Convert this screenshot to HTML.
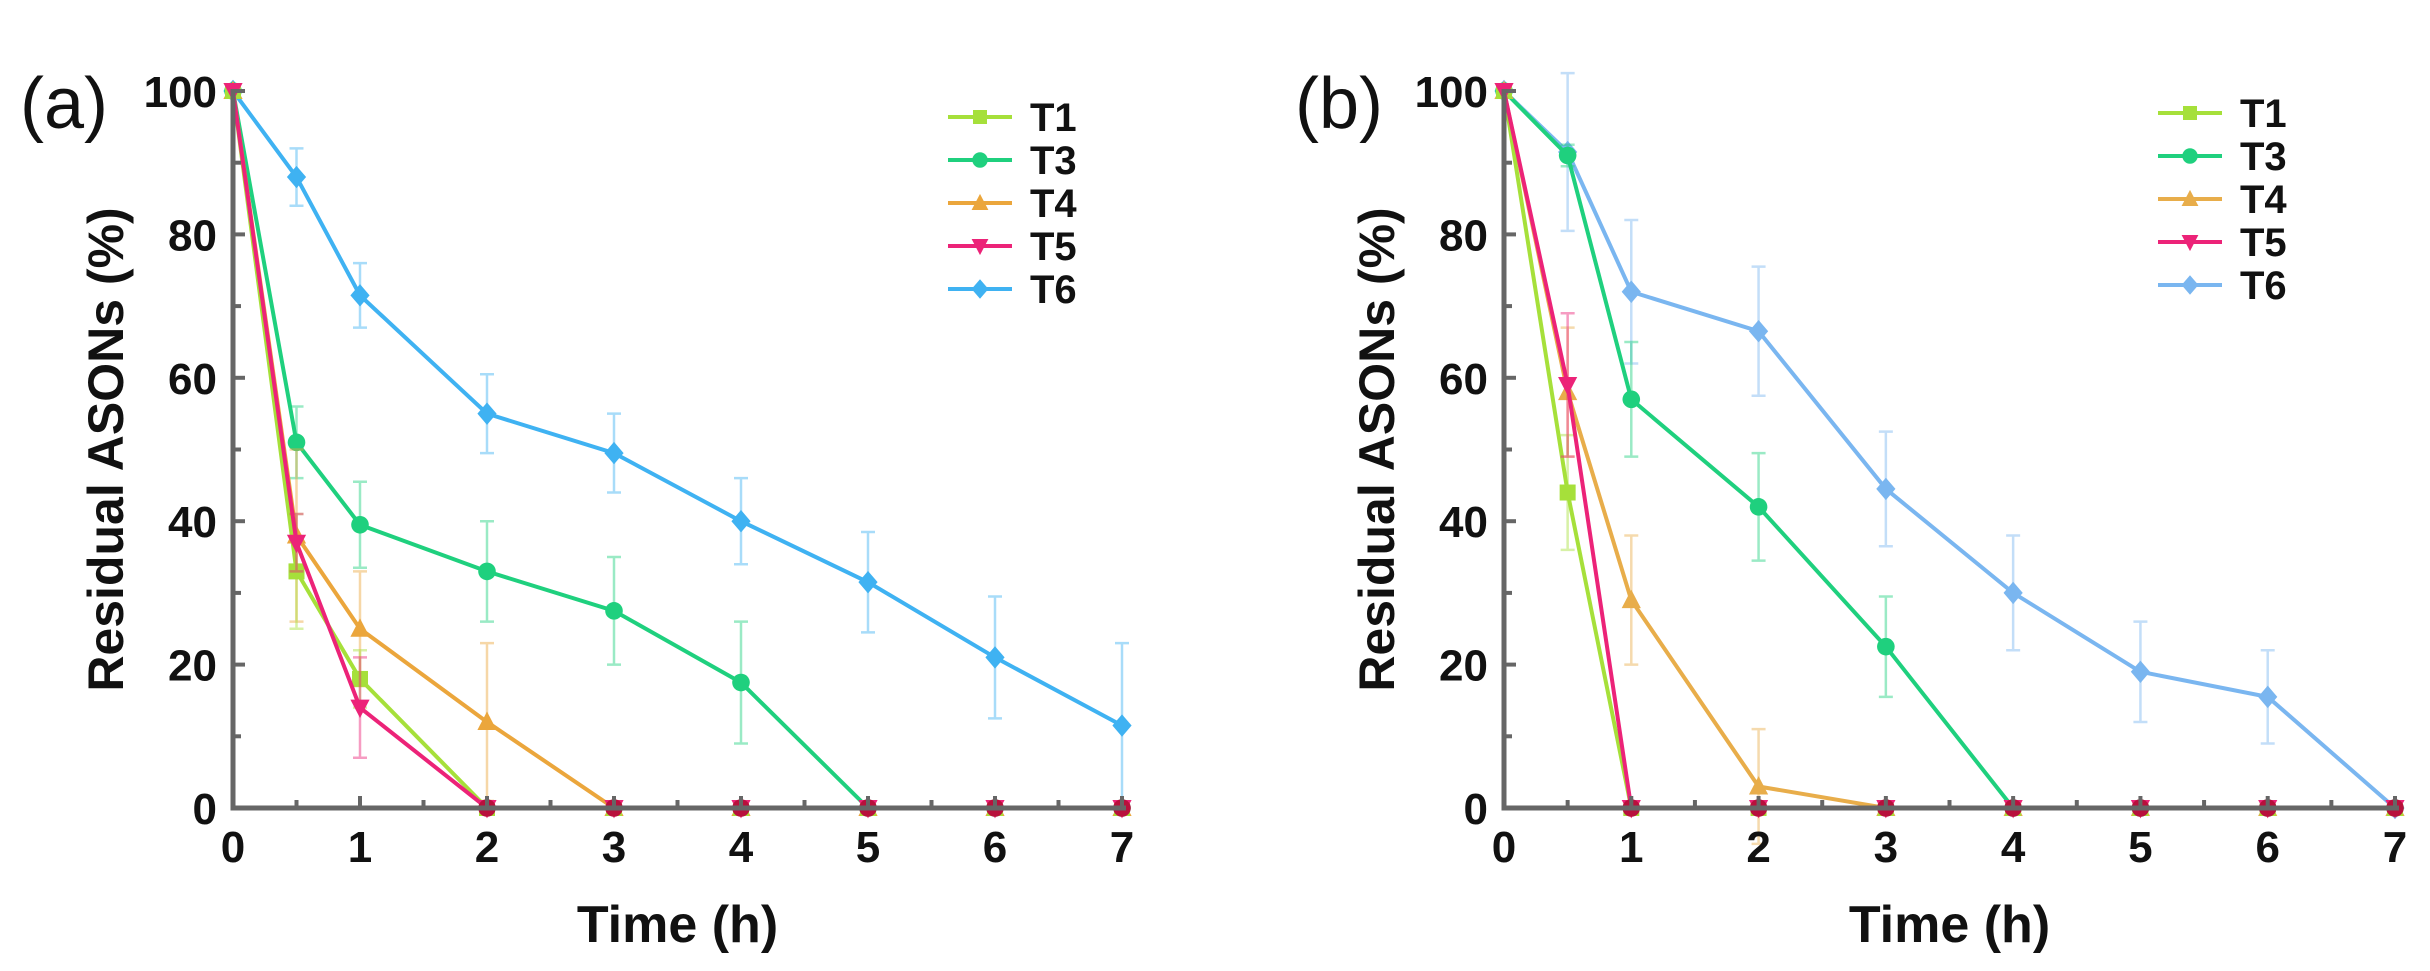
<!DOCTYPE html>
<html><head><meta charset="utf-8">
<style>
html,body{margin:0;padding:0;background:#fff;}
svg{display:block;font-family:"Liberation Sans",Arial,sans-serif;}
</style></head>
<body>
<svg id="fig" width="2430" height="971" viewBox="0 0 2430 971" xmlns="http://www.w3.org/2000/svg"></svg>
<script>
// ---- data ----
const times = [0, 0.5, 1, 2, 3, 4, 5, 6, 7];
const seriesNames = ["T1", "T3", "T4", "T5", "T6"];
const xTicks = [0, 1, 2, 3, 4, 5, 6, 7];
const yTicks = [0, 20, 40, 60, 80, 100];
// panel a
const aT1 = [100, 33, 18, 0, 0, 0, 0, 0, 0];
const aT3 = [100, 51, 39.5, 33, 27.5, 17.5, 0, 0, 0];
const aT4 = [100, 38, 25, 12, 0, 0, 0, 0, 0];
const aT5 = [100, 37, 14, 0, 0, 0, 0, 0, 0];
const aT6 = [100, 88, 71.5, 55, 49.5, 40, 31.5, 21, 11.5];
const aE1 = [0, 8, 4, 0, 0, 0, 0, 0, 0];
const aE3 = [0, 5, 6, 7, 7.5, 8.5, 0, 0, 0];
const aE4 = [0, 12, 8, 11, 0, 0, 0, 0, 0];
const aE5 = [0, 4, 7, 0, 0, 0, 0, 0, 0];
const aE6 = [0, 4, 4.5, 5.5, 5.5, 6, 7, 8.5, 11.5];
// panel b
const bT1 = [100, 44, 0, 0, 0, 0, 0, 0, 0];
const bT3 = [100, 91, 57, 42, 22.5, 0, 0, 0, 0];
const bT4 = [100, 58, 29, 3, 0, 0, 0, 0, 0];
const bT5 = [100, 59, 0, 0, 0, 0, 0, 0, 0];
const bT6 = [100, 91.5, 72, 66.5, 44.5, 30, 19, 15.5, 0];
const bE1 = [0, 8, 0, 0, 0, 0, 0, 0, 0];
const bE3 = [0, 1.5, 8, 7.5, 7, 0, 0, 0, 0];
const bE4 = [0, 9, 9, 8, 0, 0, 0, 0, 0];
const bE5 = [0, 10, 0, 0, 0, 0, 0, 0, 0];
const bE6 = [0, 11, 10, 9, 8, 8, 7, 6.5, 0];

const NS = "http://www.w3.org/2000/svg";
const svg = document.getElementById("fig");
function mk(tag, attrs, parent){
  const e = document.createElementNS(NS, tag);
  for (const k in attrs) e.setAttribute(k, attrs[k]);
  (parent||svg).appendChild(e);
  return e;
}
const colorsA = ["#a6e03a", "#1fd07e", "#eba63c", "#ec2378", "#3fb2f2"];
const colorsB = ["#a6e03a", "#1fd07e", "#e8ad4a", "#ec2378", "#7ab6f0"];
const markers = ["square", "circle", "up", "down", "diamond"];

function marker(g, type, x, y, c, s){
  let m;
  if (type==="square") m = mk("rect",{x:x-s,y:y-s,width:2*s,height:2*s,fill:c},g);
  else if (type==="circle") m = mk("circle",{cx:x,cy:y,r:s*1.1,fill:c},g);
  else if (type==="up") m = mk("polygon",{points:`${x},${y-s*1.3} ${x-s*1.2},${y+s} ${x+s*1.2},${y+s}`,fill:c},g);
  else if (type==="down") m = mk("polygon",{points:`${x},${y+s*1.3} ${x-s*1.2},${y-s} ${x+s*1.2},${y-s}`,fill:c},g);
  else m = mk("polygon",{points:`${x},${y-s*1.4} ${x+s*1.2},${y} ${x},${y+s*1.4} ${x-s*1.2},${y}`,fill:c},g);
  
  
}

function panel(cfg){
  const {x0, x1, y0, y1, label, lx, vals, errs, colors, legX, legY, name} = cfg;
  const X = t => x0 + (t/7)*(x1-x0);
  const Y = v => y0 - (v/100)*(y0-y1);
  const g = mk("g",{});
  
  

  const pl = mk("text",{x:lx,y:128,"font-size":72,fill:"#111"},g);
  pl.textContent = label;
  
  

  const order = [4,1,2,0,3];
  order.forEach(i=>{
    const sg = mk("g",{},g);
    
    
    const c = colors[i];
    times.forEach((t,k)=>{
      const e = errs[i][k];
      if (e>0){
        const xx = X(t);
        const eb = mk("path",{d:`M${xx},${Y(vals[i][k]+e)}V${Y(vals[i][k]-e)}M${xx-7},${Y(vals[i][k]+e)}h14M${xx-7},${Y(vals[i][k]-e)}h14`,stroke:c,"stroke-width":2.5,fill:"none",opacity:0.45},sg);
        
        
      }
    });
    const pts = times.map((t,k)=>`${X(t)},${Y(vals[i][k])}`).join(" ");
    const ln = mk("polyline",{points:pts,fill:"none",stroke:c,"stroke-width":4},sg);
    
    
    times.forEach((t,k)=>marker(sg, markers[i], X(t), Y(vals[i][k]), c, 8));
  });
  times.forEach((t,k)=>{
    if (vals[3][k]===0) marker(g,"circle",X(t),Y(0),"#b8103c",8);
  });

  const ax = mk("path",{d:`M${x0},${y1-2}V${y0}H${x1+4}`,stroke:"#666",fill:"none","stroke-width":5},g);
  
  
  for (let t=0.5;t<7.01;t+=0.5){
    const tk = mk("line",{x1:X(t),x2:X(t),y1:y0,y2:y0-(t%1===0?12:8),stroke:"#666","stroke-width":4},g);
    
    
  }
  for (let v=10;v<=100;v+=10){
    const tk = mk("line",{x1:x0,x2:x0+(v%20===0?12:8),y1:Y(v),y2:Y(v),stroke:"#666","stroke-width":4},g);
    
    
  }
  xTicks.forEach(t=>{
    const tl = mk("text",{x:X(t),y:y0+54,"font-size":44,"font-weight":"bold","text-anchor":"middle",fill:"#111"},g);
    tl.textContent = t;
    
    
  });
  yTicks.forEach(v=>{
    const tl = mk("text",{x:x0-16,y:Y(v)+16,"font-size":44,"font-weight":"bold","text-anchor":"end",fill:"#111"},g);
    tl.textContent = v;
    
    
  });
  const xt = mk("text",{x:(x0+x1)/2,y:942,"font-size":52,"font-weight":"bold","text-anchor":"middle",fill:"#111"},g);
  xt.textContent = "Time (h)";
  
  
  const yt = mk("text",{x:0,y:0,"font-size":50,"font-weight":"bold","text-anchor":"middle",fill:"#111",transform:`translate(${x0-110},${(y0+y1)/2}) rotate(-90)`},g);
  yt.textContent = "Residual ASONs (%)";
  
  

  seriesNames.forEach((n,i)=>{
    const ly = legY + i*43;
    const lg = mk("g",{},g);
    
    
    mk("line",{x1:legX,x2:legX+64,y1:ly,y2:ly,stroke:colors[i],"stroke-width":4},lg);
    marker(lg, markers[i], legX+32, ly, colors[i], 7);
    const tx = mk("text",{x:legX+82,y:ly+14,"font-size":40,"font-weight":"bold",fill:"#111"},lg);
    tx.textContent = n;
  });
}

panel({name:"panel-a", x0:233, x1:1122, y0:808, y1:91, label:"(a)", lx:20,
  vals:[aT1,aT3,aT4,aT5,aT6], errs:[aE1,aE3,aE4,aE5,aE6], colors:colorsA, legX:948, legY:117});
panel({name:"panel-b", x0:1504, x1:2395, y0:808, y1:91, label:"(b)", lx:1295,
  vals:[bT1,bT3,bT4,bT5,bT6], errs:[bE1,bE3,bE4,bE5,bE6], colors:colorsB, legX:2158, legY:113});
</script>
</body></html>
